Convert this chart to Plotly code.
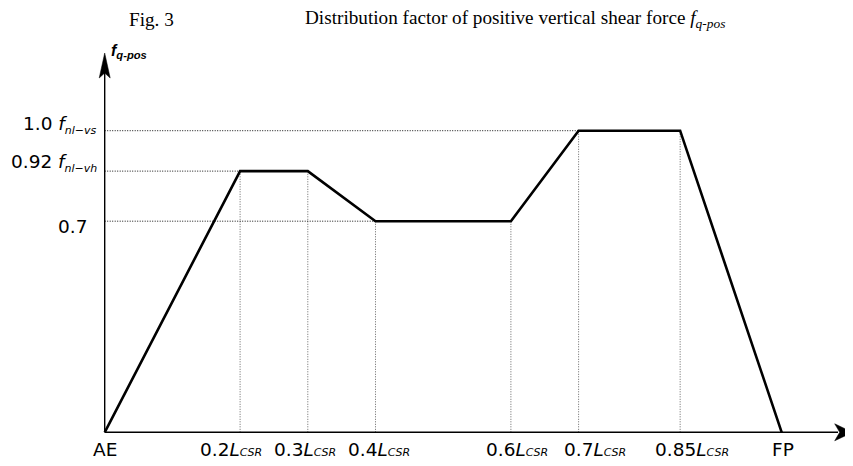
import plotly.graph_objects as go

# positions along the ship length (fraction of L_CSR) and the factor f_q-pos
x_pos = [0, 0.2, 0.3, 0.4, 0.6, 0.7, 0.85, 1.0]
f_val = [0, 0.866, 0.866, 0.7, 0.7, 1.0, 1.0, 0]

CSR = '<i>L</i><span style="font-size:11px"><i>CSR</i></span>'
x_labels = ['AE', '0.2' + CSR, '0.3' + CSR, '0.4' + CSR,
            '0.6' + CSR, '0.7' + CSR, '0.85' + CSR, 'FP']
x_label_shift = [0, -9, -3, 3, 6, 16, 12, 1]

y_levels = [1.0, 0.866, 0.7]
y_labels = ['1.0 <i>f</i><sub><span style="font-size:11px"><i>nl\u2212vs</i></span></sub>',
            '0.92 <i>f</i><sub><span style="font-size:11px"><i>nl\u2212vh</i></span></sub>',
            '0.7']

# page pixel -> data helpers (origin on the page at 104.7, 432.3)
X0, XS = 104.7, 677.0
Y0, YS = 432.3, 301.6
def px(p):
    return (p - X0) / XS
def py(p):
    return (Y0 - p) / YS

OFF = 8  # the html body puts the figure 8px in from the page corner
W, H = 853 - OFF, 466 - OFF

fig = go.Figure()

# dotted guide lines
gx, gy = [], []
for xv, yv in zip(x_pos[1:-1], f_val[1:-1]):
    gx += [xv, xv, None]
    gy += [0, yv, None]
fig.add_trace(go.Scatter(x=gx, y=gy, mode='lines',
                         line=dict(color='#666666', width=1, dash='1px,1.5px'),
                         hoverinfo='skip', showlegend=False))
hx, hy = [], []
for lvl in y_levels:
    first = x_pos[f_val.index(lvl)]
    hx += [0, first, None]
    hy += [lvl, lvl, None]
fig.add_trace(go.Scatter(x=hx, y=hy, mode='lines',
                         line=dict(color='#111111', width=1, dash='1px,1.5px'),
                         hoverinfo='skip', showlegend=False))

# main distribution line
fig.add_trace(go.Scatter(x=x_pos, y=f_val, mode='lines',
                         line=dict(color='black', width=2.6),
                         hoverinfo='skip', showlegend=False))

# axes with arrows
x_tip = px(852.7)
y_tip = py(53)
fig.add_shape(type='line', x0=0, y0=0, x1=px(838), y1=0,
              line=dict(color='black', width=1.4))
fig.add_shape(type='line', x0=0, y0=0, x1=0, y1=py(72),
              line=dict(color='black', width=1.4))
fig.add_shape(type='path', xsizemode='pixel', ysizemode='pixel',
              xanchor=x_tip, yanchor=0,
              path='M0,0 L-18,8.5 L-13,0 L-18,-8.5 Z',
              fillcolor='black', line=dict(color='black', width=0.5))
fig.add_shape(type='path', xsizemode='pixel', ysizemode='pixel',
              xanchor=0, yanchor=y_tip,
              path='M0,0 L-5.5,-25 L0,-20 L5.5,-25 Z',
              fillcolor='black', line=dict(color='black', width=0.5))

lab_font = dict(family='DejaVu Sans', size=18.5, color='black')

# x tick labels
for xv, txt, sh in zip(x_pos, x_labels, x_label_shift):
    fig.add_annotation(x=xv, y=0, text=txt, showarrow=False,
                       xanchor='center', yanchor='middle',
                       xshift=sh, yshift=-17, font=lab_font)

# y tick labels
y_xshift = [-6, -6, -16]
y_yshift = [6, 8, -5]
for lvl, txt, xs, ys in zip(y_levels, y_labels, y_xshift, y_yshift):
    fig.add_annotation(x=0, y=lvl, text=txt, showarrow=False,
                       xanchor='right', yanchor='middle',
                       xshift=xs, yshift=ys, font=lab_font)

# axis name
fig.add_annotation(x=px(109), y=py(51), text='<b><i>f</i></b><sub><b><i>q-pos</i></b></sub>',
                   showarrow=False, xanchor='left', yanchor='middle',
                   font=dict(family='Liberation Sans, Arial', size=16, color='black'))

# caption
cap_font = dict(family='Liberation Serif, Times New Roman', size=19.2, color='black')
fig.add_annotation(x=px(127), y=py(19), text='Fig. 3', showarrow=False,
                   xanchor='left', yanchor='middle', font=cap_font)
fig.add_annotation(x=px(303), y=py(19),
                   text='Distribution factor of positive vertical shear force <i>f</i><sub><i>q-pos</i></sub>',
                   showarrow=False, xanchor='left', yanchor='middle', font=cap_font)

fig.update_layout(
    width=W, height=H,
    margin=dict(l=0, r=0, t=0, b=0),
    plot_bgcolor='white', paper_bgcolor='white',
    xaxis=dict(range=[px(OFF), px(OFF + W)], visible=False, fixedrange=True),
    yaxis=dict(range=[py(OFF + H), py(OFF)], visible=False, fixedrange=True),
)

fig.write_html("out.html")
